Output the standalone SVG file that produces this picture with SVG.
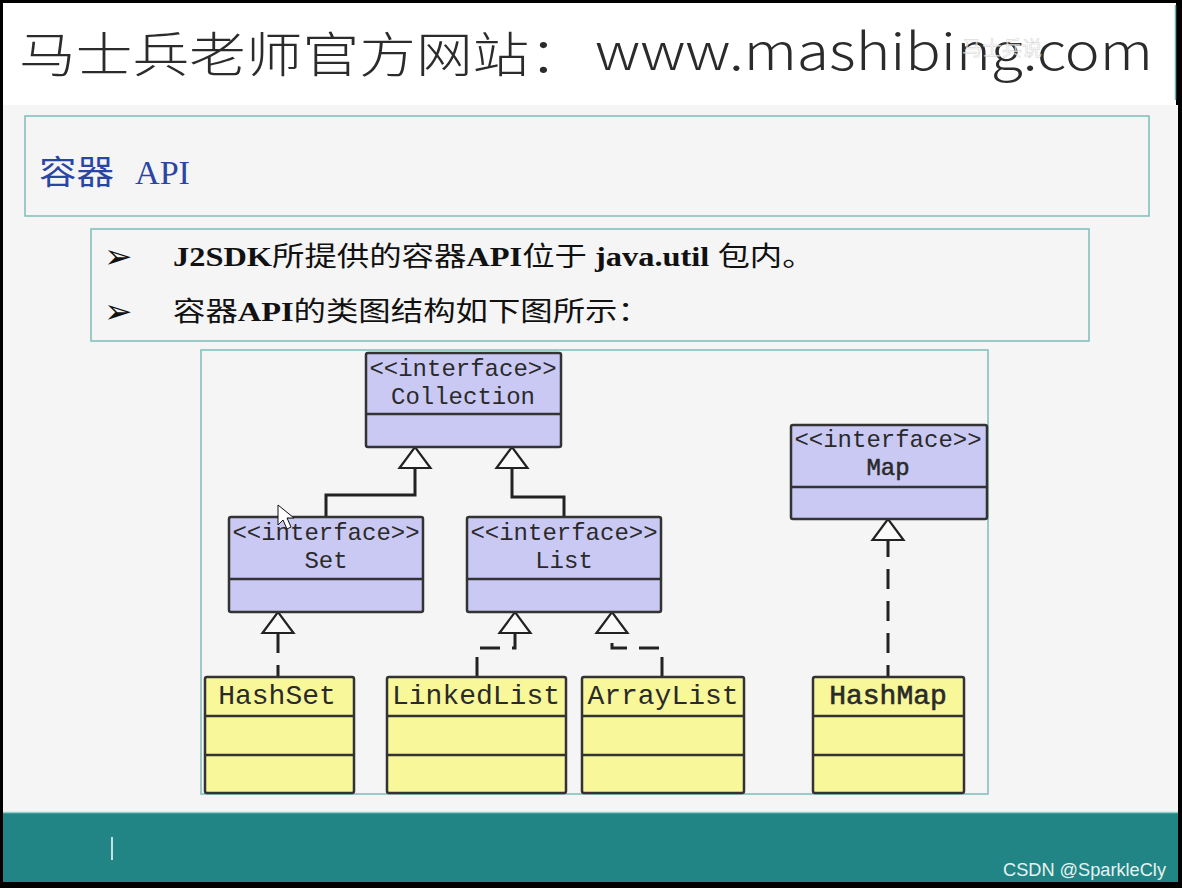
<svg xmlns="http://www.w3.org/2000/svg" width="1182" height="888" viewBox="0 0 1182 888">
<defs>
<style>
.frame{fill:#f5f5f5;stroke:#7dbdba;stroke-width:1.5}
.iface{fill:#cac9f4;stroke:#333;stroke-width:2.5}
.cls{fill:#f8f79a;stroke:#333;stroke-width:2.5}
.div{stroke:#333;stroke-width:2.5}
.uml{font-family:"Liberation Mono","DejaVu Sans Mono",monospace;fill:#2a2a2a;text-anchor:middle}
.st{font-size:24px}
.cn{font-size:28px}
.conn{fill:none;stroke:#222;stroke-width:3}
.dash{stroke-dasharray:20 12}
.bul{font-family:"Liberation Serif","Noto Sans CJK SC",serif;font-size:27px;fill:#111}
.b{font-weight:bold}
.hdr{font-family:"Noto Sans CJK SC","Noto Sans",sans-serif;fill:#2b2b2b;font-weight:300}
.wm{font-family:"Noto Sans CJK SC",sans-serif;font-size:20px;fill:#ffffff;fill-opacity:0.7;stroke:#9a9a9a;stroke-width:0.5;stroke-opacity:0.5}
.ttl{fill:#2b45a5;font-weight:normal}
.arr{font-family:"DejaVu Sans",sans-serif;font-size:34px;fill:#111}
</style>
<marker id="tri" markerUnits="userSpaceOnUse" viewBox="-2 -18 26 36" markerWidth="26" markerHeight="36" refX="21" refY="0" orient="auto">
<polygon points="0,-15.5 21,0 0,15.5" fill="#fafafa" stroke="#222" stroke-width="2.2"/>
</marker>
</defs>

<rect x="0" y="0" width="1182" height="888" fill="#000"/>
<rect x="3" y="3" width="1173" height="102" fill="#ffffff"/>
<line x1="1175.5" y1="5" x2="1175.5" y2="100" stroke="#6fb3b0" stroke-width="1.5"/>
<rect x="3" y="105" width="1175" height="707" fill="#f5f5f5"/>
<rect x="3" y="812" width="1175" height="70" fill="#218585"/>
<line x1="3" y1="812.5" x2="1178" y2="812.5" stroke="#8fcfcc" stroke-width="1.5"/>

<g id="header">
<text class="hdr" x="19" y="72" font-size="48" textLength="567" lengthAdjust="spacingAndGlyphs">马士兵老师官方网站：</text>
<text class="hdr" x="595" y="70" font-size="50" textLength="558" lengthAdjust="spacingAndGlyphs">www.mashibing.com</text>
<text class="wm" x="962" y="56">马士兵说</text>
</g>

<g id="title">
<rect class="frame" x="25" y="116" width="1124" height="100"/>
<text class="hdr ttl" x="39" y="184" font-size="33" textLength="75" lengthAdjust="spacingAndGlyphs">容器</text>
<text class="ttl" x="135" y="184" font-family="Liberation Serif, serif" font-size="34" textLength="55" lengthAdjust="spacingAndGlyphs">API</text>
</g>

<g id="bullets">
<rect class="frame" x="91" y="229" width="998" height="112"/>
<text class="arr" x="104" y="268">➢</text>
<text class="arr" x="104" y="323">➢</text>
<g transform="translate(173,266) scale(1.2,1)">
<text class="bul" x="0" y="0"><tspan class="b">J2SDK</tspan>所提供的容器<tspan class="b">API</tspan>位于 <tspan class="b">java.util</tspan> 包内。</text>
</g>
<g transform="translate(173,321) scale(1.2,1)">
<text class="bul" x="0" y="0">容器<tspan class="b">API</tspan>的类图结构如下图所示：</text>
</g>
</g>

<rect id="diagram-frame" class="frame" x="201" y="350" width="787" height="444"/>

<g id="connectors">
<path class="conn" d="M326,517 V495 H415 V447" marker-end="url(#tri)"/>
<path class="conn" d="M564,517 V497 H512 V447" marker-end="url(#tri)"/>
<path class="conn dash" d="M278,677 V612" stroke-dashoffset="8" marker-end="url(#tri)"/>
<path class="conn dash" d="M477,677 V648 H515 V612" marker-end="url(#tri)"/>
<path class="conn dash" d="M662,677 V648 H612 V612" marker-end="url(#tri)"/>
<path class="conn dash" d="M888,677 V519" stroke-dashoffset="8" marker-end="url(#tri)"/>
</g>

<g id="Collection">
<rect class="iface" x="366" y="353" width="195" height="94" rx="2"/>
<line class="div" x1="366" y1="414" x2="561" y2="414"/>
<text class="uml st" x="463" y="376">&lt;&lt;interface&gt;&gt;</text>
<text class="uml st" x="463" y="404">Collection</text>
</g>

<g id="Set">
<rect class="iface" x="229" y="517" width="194" height="95" rx="2"/>
<line class="div" x1="229" y1="579" x2="423" y2="579"/>
<text class="uml st" x="326" y="540">&lt;&lt;interface&gt;&gt;</text>
<text class="uml st" x="326" y="568">Set</text>
</g>

<g id="List">
<rect class="iface" x="467" y="517" width="194" height="95" rx="2"/>
<line class="div" x1="467" y1="579" x2="661" y2="579"/>
<text class="uml st" x="564" y="540">&lt;&lt;interface&gt;&gt;</text>
<text class="uml st" x="564" y="568">List</text>
</g>

<g id="Map">
<rect class="iface" x="791" y="425" width="196" height="94" rx="2"/>
<line class="div" x1="791" y1="487" x2="987" y2="487"/>
<text class="uml st" x="888" y="447">&lt;&lt;interface&gt;&gt;</text>
<text class="uml st" x="888" y="475" stroke="#2a2a2a" stroke-width="0.5">Map</text>
</g>

<g id="HashSet">
<rect class="cls" x="205" y="677" width="149" height="116" rx="2"/>
<line class="div" x1="205" y1="716" x2="354" y2="716"/>
<line class="div" x1="205" y1="755" x2="354" y2="755"/>
<text class="uml cn" x="277" y="704">HashSet</text>
</g>

<g id="LinkedList">
<rect class="cls" x="387" y="677" width="179" height="116" rx="2"/>
<line class="div" x1="387" y1="716" x2="566" y2="716"/>
<line class="div" x1="387" y1="755" x2="566" y2="755"/>
<text class="uml cn" x="476" y="704">LinkedList</text>
</g>

<g id="ArrayList">
<rect class="cls" x="582" y="677" width="162" height="116" rx="2"/>
<line class="div" x1="582" y1="716" x2="744" y2="716"/>
<line class="div" x1="582" y1="755" x2="744" y2="755"/>
<text class="uml cn" x="663" y="704">ArrayList</text>
</g>

<g id="HashMap">
<rect class="cls" x="813" y="677" width="151" height="116" rx="2"/>
<line class="div" x1="813" y1="716" x2="964" y2="716"/>
<line class="div" x1="813" y1="755" x2="964" y2="755"/>
<text class="uml cn" x="888" y="704" stroke="#2a2a2a" stroke-width="0.6">HashMap</text>
</g>

<polygon id="cursor" points="278,505 278,525 283,520 287,529 291,527 287,518 294,518" fill="#ffffff" stroke="#111" stroke-width="1"/>

<g id="footer">
<line x1="112" y1="837" x2="112" y2="860" stroke="#ffffff" stroke-width="1.5"/>
<text x="1166" y="876" font-family="Liberation Sans, Arial, sans-serif" font-size="19" fill="#e8f2f2" text-anchor="end" textLength="163" lengthAdjust="spacingAndGlyphs">CSDN @SparkleCly</text>
</g>
</svg>
